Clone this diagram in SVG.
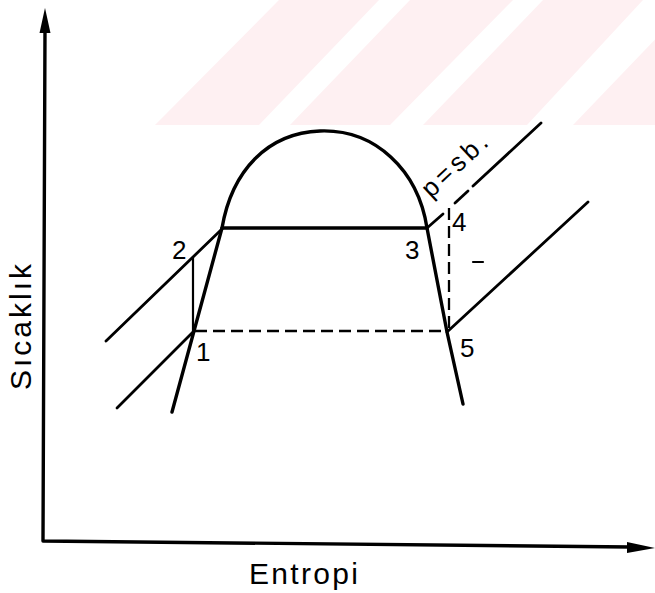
<svg xmlns="http://www.w3.org/2000/svg" width="655" height="593" viewBox="0 0 655 593">
<style>
.wm{fill:#fef0f2;stroke:none}
.thick{fill:none;stroke:#000;stroke-width:3.4;stroke-linecap:round;stroke-linejoin:round}
.iso{fill:none;stroke:#000;stroke-width:2.8;stroke-linecap:round}
.thin{fill:none;stroke:#000;stroke-width:2.2;stroke-linecap:round}
.dash{fill:none;stroke:#000;stroke-width:2.3;stroke-dasharray:12 6}
.lbl{font-family:"Liberation Sans",Arial,sans-serif;font-size:26px;fill:#000}
.ax{font-family:"Liberation Sans",Arial,sans-serif;font-size:30px;fill:#000}
</style>
<rect width="655" height="593" fill="#fff"/>
<g id="watermark">
<polygon class="wm" points="155,125 259,125 379,0 279,0"/>
<polygon class="wm" points="290,125 390,125 513,0 410,0"/>
<polygon class="wm" points="423,125 527,125 643,0 543,0"/>
<polygon class="wm" points="573,125 677,125 797,0 693,0"/>
</g>
<g id="axes">
<path class="thick" d="M45,28 L43,541 L630,547"/>
<polygon points="45,8 39.5,33 50.5,33" fill="#000"/>
<polygon points="655,548 627,542 627,553" fill="#000"/>
<text class="ax" transform="translate(31,390) rotate(-90)" letter-spacing="3">Sıcaklık</text>
<text class="ax" x="249" y="584" font-size="28" letter-spacing="2.3">Entropi</text>
</g>
<g id="saturation-dome">
<path class="thick" d="M172,412 L222,228 C232,170 268,133 320,131 C375,129 418,170 427,228 L447,332 L463,404"/>
</g>
<g id="connectors">
<line class="thick" x1="222" y1="228" x2="427" y2="228"/>
<line class="iso" x1="106" y1="341" x2="222" y2="229"/>
<line class="iso" x1="427" y1="228" x2="443" y2="214"/>
<line class="iso" x1="455" y1="203" x2="468" y2="191"/>
<line class="iso" x1="473" y1="186" x2="541" y2="123"/>
<line class="iso" x1="117" y1="408" x2="193" y2="332"/>
<line class="iso" x1="447" y1="332" x2="588" y2="202"/>
<line class="thin" x1="193" y1="257" x2="193" y2="333"/>
<line class="dash" x1="195" y1="331" x2="446" y2="331"/>
<line class="dash" x1="449" y1="208" x2="449" y2="330"/>
<line class="thin" x1="473" y1="262" x2="483" y2="262" stroke-width="1.5"/>
</g>
<g id="labels">
<text class="lbl" x="172" y="259">2</text>
<text class="lbl" x="196" y="361">1</text>
<text class="lbl" x="405" y="259">3</text>
<text class="lbl" x="452" y="231">4</text>
<text class="lbl" x="460" y="357">5</text>
<text class="lbl" transform="translate(431,199) rotate(-43)" font-size="30" letter-spacing="4">p=sb.</text>
</g>
</svg>
